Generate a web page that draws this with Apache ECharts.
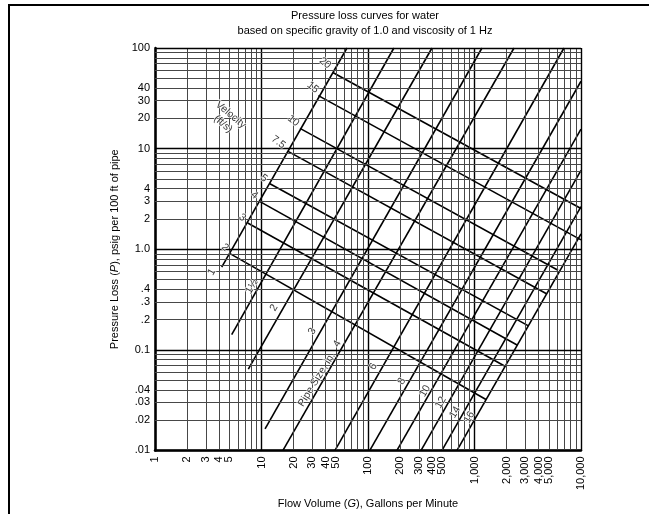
<!DOCTYPE html>
<html>
<head>
<meta charset="utf-8">
<script src="https://cdn.jsdelivr.net/npm/echarts@6/dist/echarts.min.js"></script>
<style>
html, body { margin: 0; padding: 0; background: #fff; }
#chart { width: 649px; height: 514px; }
</style>
</head>
<body>
<div id="chart"></div>
<script>
// axis ticks
var flowTicks = [1, 2, 3, 4, 5, 10, 20, 30, 40, 50, 100, 200, 300, 400, 500, 1000, 2000, 3000, 4000, 5000, 10000];
var lossTicks = [0.01, 0.02, 0.03, 0.04, 0.1, 0.2, 0.3, 0.4, 1, 2, 3, 4, 10, 20, 30, 40, 100];
var lossTickText = ['.01', '.02', '.03', '.04', '0.1', '.2', '.3', '.4', '1.0', '2', '3', '4', '10', '20', '30', '40', '100'];

// pipe size lines: [gpm, psi] at lower end and upper end
var pipeSizes = ['1', '1\u00BD', '2', '3', '4', '6', '8', '10', '12', '14', '16'];
var pipeLines = [
    [[4.23, 0.665], [63.5, 100]],
    [[5.25, 0.142], [175, 100]],
    [[7.52, 0.0643], [399, 100]],
    [[10.8, 0.0164], [1175, 100]],
    [[15.9, 0.01], [2350, 100]],
    [[49, 0.01], [6920, 100]],
    [[104, 0.01], [10000, 46.7]],
    [[187, 0.01], [10000, 15.6]],
    [[315, 0.01], [10000, 6.07]],
    [[495, 0.01], [10000, 2.65]],
    [[685, 0.01], [10000, 1.42]]
];
// where the size numbers sit
var pipeLabelAt = [[3.41, 0.594], [8.09, 0.425], [13.1, 0.262], [30.0, 0.153], [51.5, 0.115], [112, 0.0683],
    [207, 0.0488], [343, 0.039], [482, 0.030], [656, 0.024], [894, 0.0214]];

// velocity lines (ft/s): start on the 1 in. line, end on the 16 in. line or the frame
var velocities = ['2', '3', '4', '5', '7.5', '10', '15', '20'];
var velocityLines = [
    [[5.06, 0.904], [1282, 0.0321]],
    [[7.42, 1.82], [1933, 0.0687]],
    [[9.68, 2.97], [2535, 0.111]],
    [[12.0, 4.47], [3178, 0.174]],
    [[17.6, 9.44], [4744, 0.361]],
    [[23.0, 15.9], [6083, 0.618]],
    [[34.2, 33.6], [10000, 1.24]],
    [[47.2, 56.7], [10000, 2.54]]
];
var velocityLabelAt = [[4.54, 1.04], [6.60, 2.07], [8.56, 3.44], [10.5, 5.08], [14.4, 11.6], [19.9, 18.9], [30.3, 40.6], [39.5, 71.0]];

var chart = echarts.init(document.getElementById('chart'));
var font = '"Liberation Sans", Arial, sans-serif';

// log grid lines 1..9 per decade
var xGrid = [], yGrid = [];
function gridStyle(major) {
    return {type: 'solid', width: major ? 1.4 : 1, color: major ? '#000' : '#474747'};
}
[1, 10, 100, 1000].forEach(function (d) {
    for (var m = 1; m < 10; m++) xGrid.push({xAxis: +(d * m).toPrecision(3), lineStyle: gridStyle(m === 1)});
});
xGrid.push({xAxis: 10000, lineStyle: gridStyle(true)});
[0.01, 0.1, 1, 10].forEach(function (d) {
    for (var m = 1; m < 10; m++) yGrid.push({yAxis: +(d * m).toPrecision(3), lineStyle: gridStyle(m === 1)});
});
yGrid.push({yAxis: 100, lineStyle: gridStyle(true)});

var series = [{
    type: 'line',
    data: [],
    silent: true,
    markLine: {
        silent: true,
        symbol: ['none', 'none'],
        label: {show: false},
        lineStyle: {type: 'solid'},
        emphasis: {disabled: true},
        animation: false,
        data: xGrid.concat(yGrid)
    }
}];

pipeLines.forEach(function (pts, i) {
    series.push({
        name: 'pipe ' + pipeSizes[i], type: 'line', data: pts, symbol: 'none',
        lineStyle: {color: '#000', width: 1.6}, z: 3
    });
});
velocityLines.forEach(function (pts, i) {
    series.push({
        name: 'v ' + velocities[i], type: 'line', data: pts, symbol: 'none',
        lineStyle: {color: '#000', width: 1.6}, z: 3
    });
});

var labelData = [];
pipeSizes.forEach(function (s, i) {
    labelData.push({value: [pipeLabelAt[i][0], pipeLabelAt[i][1], s], label: {rotate: 60}});
});
labelData.push({value: [33.0, 0.0506, 'Pipe Size, in.'], label: {rotate: 58}});
velocities.forEach(function (s, i) {
    labelData.push({value: [velocityLabelAt[i][0], velocityLabelAt[i][1], s], label: {rotate: -38}});
});
labelData.push({value: [4.74, 19.5, 'Velocity\n(ft/s)'], label: {rotate: -40, lineHeight: 12}});

series.push({
    type: 'scatter',
    data: labelData,
    symbolSize: 1,
    itemStyle: {color: 'rgba(0,0,0,0)'},
    z: 5,
    label: {
        show: true,
        position: 'inside',
        color: '#000',
        fontSize: 10.5,
        fontFamily: font,
        textBorderColor: '#fff',
        textBorderWidth: 1.5,
        formatter: function (p) { return p.value[2]; }
    }
});

chart.setOption({
    animation: false,
    textStyle: {fontFamily: font},
    grid: {left: 155, right: 68, top: 48, bottom: 55},
    xAxis: {
        type: 'log',
        logBase: 10,
        min: 1,
        max: 10000,
        name: 'Flow Volume ({i|G}), Gallons per Minute',
        nameLocation: 'middle',
        nameGap: 38,
        nameTextStyle: {color: '#000', fontSize: 11, fontFamily: font, rich: {i: {fontStyle: 'italic', fontSize: 11, fontFamily: font}}},
        axisLine: {lineStyle: {color: '#000', width: 2.5}},
        axisTick: {show: false},
        splitLine: {show: false},
        axisLabel: {
            customValues: flowTicks,
            rotate: 90,
            margin: 6,
            color: '#000',
            fontSize: 11,
            fontFamily: font,
            formatter: function (v) {
                return v >= 1000 ? String(v).replace(/(\d)(?=(\d{3})+$)/g, '$1,') : String(v);
            }
        }
    },
    yAxis: {
        type: 'log',
        logBase: 10,
        min: 0.01,
        max: 100,
        name: 'Pressure Loss ({i|P}), psig per 100 ft of pipe',
        nameLocation: 'middle',
        nameGap: 27,
        nameTextStyle: {color: '#000', fontSize: 11, fontFamily: font, rich: {i: {fontStyle: 'italic', fontSize: 11, fontFamily: font}}},
        axisLine: {lineStyle: {color: '#000', width: 2.5}},
        axisTick: {show: false},
        splitLine: {show: false},
        axisLabel: {
            customValues: lossTicks,
            margin: 5,
            color: '#000',
            fontSize: 11,
            fontFamily: font,
            formatter: function (v) {
                for (var i = 0; i < lossTicks.length; i++) {
                    if (Math.abs(lossTicks[i] - v) < lossTicks[i] * 1e-6) return lossTickText[i];
                }
                return '';
            }
        }
    },
    graphic: [
        {type: 'polyline', silent: true, shape: {points: [[9, 514], [9, 5], [649, 5]]}, style: {stroke: '#000', lineWidth: 2, fill: null}},
        {type: 'text', x: 365, y: 10, style: {text: 'Pressure loss curves for water', font: '11px ' + font, textAlign: 'center', fill: '#000'}},
        {type: 'text', x: 365, y: 25, style: {text: 'based on specific gravity of 1.0 and viscosity of 1 Hz', font: '11px ' + font, textAlign: 'center', fill: '#000'}}
    ],
    series: series
});
</script>
</body>
</html>
